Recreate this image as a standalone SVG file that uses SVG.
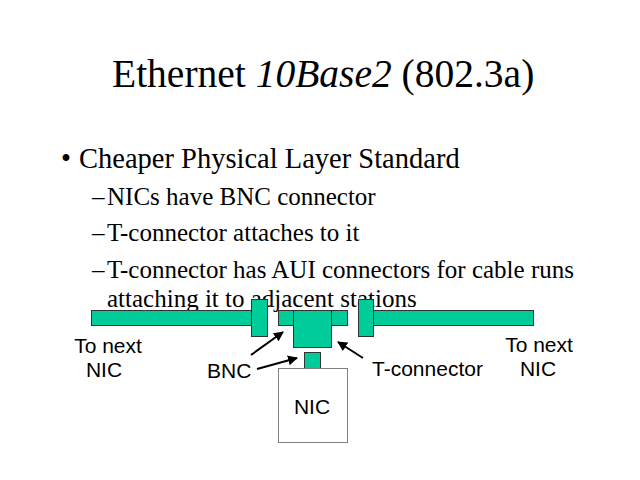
<svg xmlns="http://www.w3.org/2000/svg" width="640" height="480" viewBox="0 0 640 480">
<style>
.serif{font-family:"Liberation Serif","Times New Roman",serif;fill:#000}
.sans{font-family:"Liberation Sans",Arial,sans-serif;font-size:21px;fill:#000}
.g{fill:#00CC99;stroke:#333;stroke-width:1}
.box{fill:#fff;stroke:#808080;stroke-width:1}
.arr{stroke:#000;stroke-width:2;fill:none;marker-end:url(#ah)}
</style>
<defs>
<marker id="ah" viewBox="0 0 10 10" refX="9" refY="5" markerWidth="5" markerHeight="5" markerUnits="strokeWidth" orient="auto">
<path d="M0,0 L10,5 L0,10 z" fill="#000"/>
</marker>
</defs>
<rect width="640" height="480" fill="#fff"/>
<g id="title">
<text class="serif" x="112" y="87" font-size="39.5">Ethernet <tspan font-style="italic">10Base2</tspan> (802.3a)</text>
</g>
<g id="bullets" class="serif">
<text x="61" y="168" font-size="28.5">•</text>
<text x="79" y="168" font-size="28.5">Cheaper Physical Layer Standard</text>
<text x="92" y="205" font-size="25">–</text>
<text x="107" y="205" font-size="25">NICs have BNC connector</text>
<text x="92" y="241" font-size="25">–</text>
<text x="107" y="241" font-size="25">T-connector attaches to it</text>
<text x="92" y="278" font-size="25">–</text>
<text x="107" y="278" font-size="25">T-connector has AUI connectors for cable runs</text>
<text x="107" y="307" font-size="25">attaching it to adjacent stations</text>
</g>
<g id="cable-left"><rect class="g" x="91.5" y="310.5" width="160" height="15"/></g>
<g id="cable-mid"><rect class="g" x="278.5" y="310.5" width="69" height="15"/></g>
<g id="cable-right"><rect class="g" x="373.5" y="310.5" width="160" height="15"/></g>
<g id="aui-left"><rect class="g" x="251.5" y="299.5" width="16" height="37"/></g>
<g id="aui-right"><rect class="g" x="358.5" y="299.5" width="15" height="37"/></g>
<g id="t-connector"><rect class="g" x="293.5" y="310.5" width="38" height="37"/></g>
<g id="bnc"><rect class="g" x="304.5" y="352.5" width="16" height="16"/></g>
<g id="nic"><rect class="box" x="278.5" y="368.5" width="69" height="74"/>
<text class="sans" x="312" y="414" text-anchor="middle">NIC</text></g>
<g id="connectors">
<line class="arr" x1="251" y1="355" x2="283" y2="332"/>
<line class="arr" x1="257" y1="369" x2="297" y2="358"/>
<line class="arr" x1="363" y1="358" x2="338" y2="342"/>
</g>
<g id="label-left">
<text class="sans" x="108" y="353" text-anchor="middle">To next</text>
<text class="sans" x="104" y="377" text-anchor="middle">NIC</text>
</g>
<g id="label-right">
<text class="sans" x="539" y="352" text-anchor="middle">To next</text>
<text class="sans" x="538" y="376" text-anchor="middle">NIC</text>
</g>
<g id="label-bnc"><text class="sans" x="207" y="378">BNC</text></g>
<g id="label-t"><text class="sans" x="372" y="376">T-connector</text></g>
</svg>
